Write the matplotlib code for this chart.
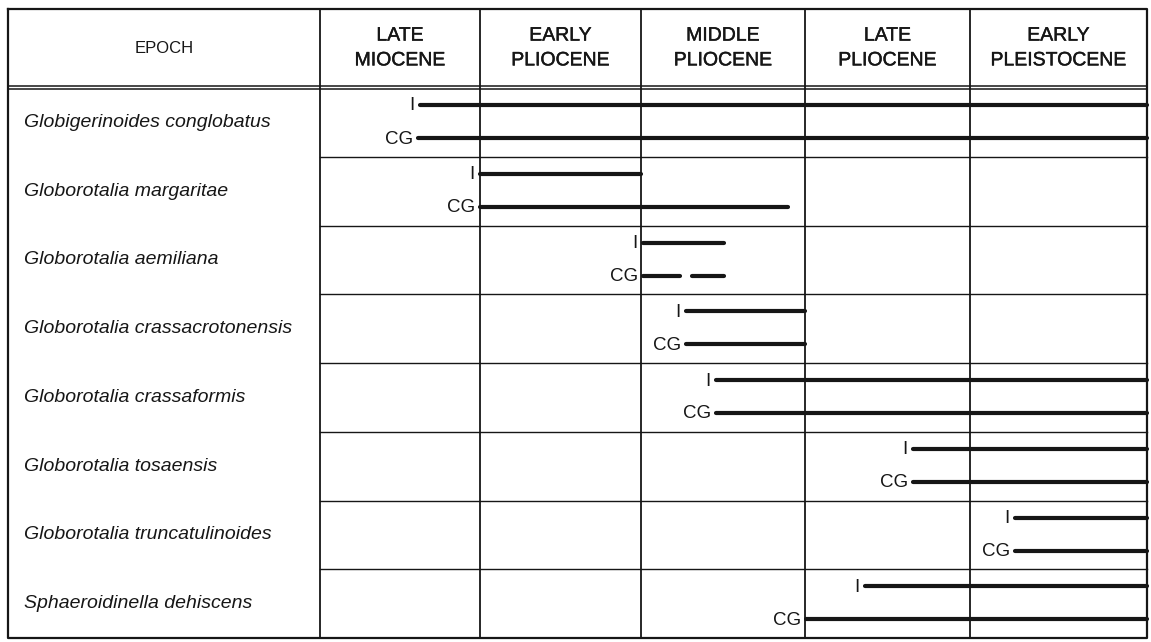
import matplotlib.pyplot as plt
import matplotlib.patheffects as pe

# epochs (header) and species (rows)
epochs = ['LATE\nMIOCENE', 'EARLY\nPLIOCENE', 'MIDDLE\nPLIOCENE', 'LATE\nPLIOCENE', 'EARLY\nPLEISTOCENE']
epoch_edges = [320, 480, 641, 805, 970, 1147]   # column boundaries along the time axis

species = ['Globigerinoides conglobatus', 'Globorotalia margaritae', 'Globorotalia aemiliana',
           'Globorotalia crassacrotonensis', 'Globorotalia crassaformis', 'Globorotalia tosaensis',
           'Globorotalia truncatulinoides', 'Sphaeroidinella dehiscens']

# ranges on the time axis, list of segments for each species
range_I = [[(420, 1147)], [(480, 641)], [(643, 724)], [(686, 805)],
           [(716, 1147)], [(913, 1147)], [(1015, 1147)], [(865, 1147)]]
range_CG = [[(418, 1147)], [(480, 788)], [(643, 680), (692, 724)], [(686, 805)],
            [(716, 1147)], [(913, 1147)], [(1015, 1147)], [(806, 1147)]]

W, H = 1151, 642
fig = plt.figure(figsize=(W / 100, H / 100), dpi=100)
ax = fig.add_axes([0, 0, 1, 1])
ax.set_xlim(0, W)
ax.set_ylim(H, 0)
ax.axis('off')

ink = '#161616'
font = 'Liberation Sans'
left, right = 8, epoch_edges[-1]
top, head_bot, bottom = 9, 86, 638
row_h = (bottom - (head_bot + 2)) / len(species)

# outer frame
ax.plot([left, right, right, left, left], [top, top, bottom, bottom, top], color=ink, lw=1.6)
# header double line
ax.plot([left, right], [head_bot, head_bot], color=ink, lw=1.1)
ax.plot([left, right], [head_bot + 3, head_bot + 3], color=ink, lw=1.1)
# column lines
for x in epoch_edges[:-1]:
    ax.plot([x, x], [top, bottom], color=ink, lw=1.3)
# row lines (only in epoch area)
for i in range(1, len(species)):
    y = head_bot + 2 + i * row_h
    ax.plot([epoch_edges[0], right], [y, y], color=ink, lw=1.0)

# header text
heavy = [pe.withStroke(linewidth=0.3, foreground=ink)]
ax.text((left + epoch_edges[0]) / 2, (top + head_bot) / 2 + 1, 'EPOCH', ha='center', va='center',
        fontsize=12, color=ink, family=font)
for i, lab in enumerate(epochs):
    cx = (epoch_edges[i] + epoch_edges[i + 1]) / 2
    ax.text(cx, (top + head_bot) / 2 + 1, lab, ha='center', va='center', fontsize=14,
            color=ink, linespacing=1.6, family=font, path_effects=heavy)

# species rows
for i, name in enumerate(species):
    y0 = head_bot + 2 + i * row_h
    ax.text(24, y0 + row_h / 2, name, ha='left', va='center', fontsize=14,
            style='italic', color=ink, family=font)
    for segs, lab, dy in [(range_I[i], 'I', 17), (range_CG[i], 'CG', 50)]:
        yy = y0 + dy
        for a, b in segs:
            ax.plot([a, b], [yy, yy], color=ink, lw=3.0, solid_capstyle='round')
        ax.text(segs[0][0] - 5, yy + 1, lab, ha='right', va='center', fontsize=13.5,
                color=ink, family=font)

fig.savefig('out.png', dpi=100, facecolor='white')
